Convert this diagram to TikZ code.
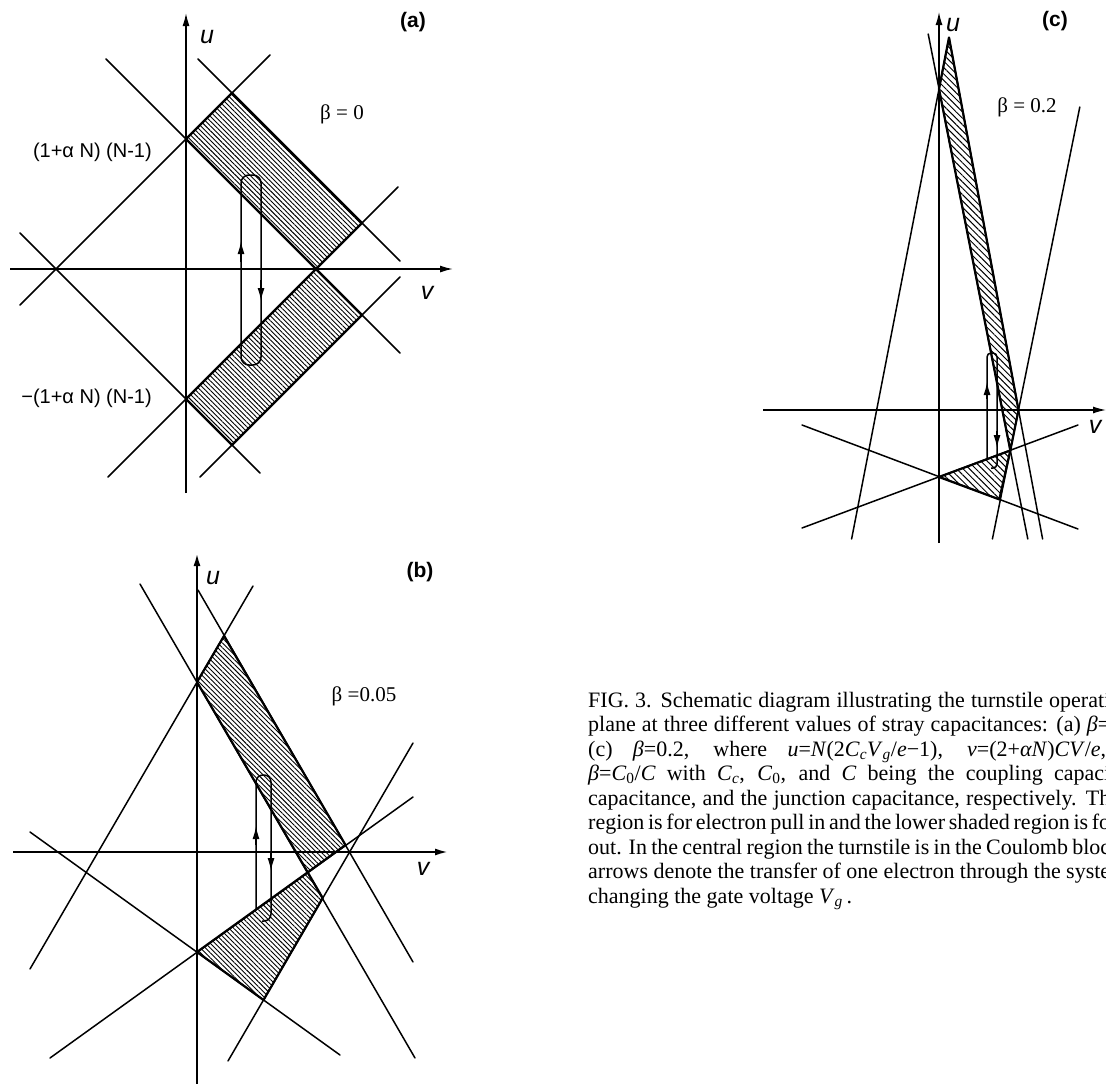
\documentclass[tikz,border=0pt]{standalone}
\usepackage{fontspec}
\setmainfont{Liberation Serif}
\setsansfont{Liberation Sans}
\usetikzlibrary{patterns.meta,arrows.meta}
\newcommand\mv[1]{\textit{#1}}
\newcommand\msb[1]{\textsubscript{\textit{#1}}}
\tikzset{
  ln/.style={line width=1.5pt, line cap=round},
  axisln/.style={line width=1.5pt, -{Latex[length=13pt,width=7pt]}},
  regedge/.style={line width=2.2pt, line join=round},
  hatchA/.style={pattern={Lines[angle=-45,distance=3.4pt,line width=0.9pt]}},
  hatchC/.style={pattern={Lines[angle=-45,distance=4.5pt,line width=1pt]}},
  loopln/.style={line width=1.5pt},
  arrowtip/.style={line width=1.5pt, -{Latex[length=13pt,width=7pt]}},
  axlab/.style={font=\sffamily\itshape\fontsize{25}{25}\selectfont, inner sep=0pt},
  panlab/.style={font=\sffamily\bfseries\fontsize{21}{21}\selectfont, inner sep=0pt},
  betalab/.style={font=\fontsize{21}{21}\selectfont, inner sep=0pt},
  intlab/.style={font=\sffamily\fontsize{20}{20}\selectfont, inner sep=0pt, anchor=east},
  capline/.style={font=\fontsize{22}{24.5}\selectfont, inner sep=0pt, anchor=base west},
}
\begin{document}
\begin{tikzpicture}[x=1pt,y=-1pt]
\useasboundingbox[fill=white] (0,0) rectangle (1106,1084);

% ---------------- panel (a) ----------------
\draw[ln] (20,305) -- (270,55);
\draw[ln] (20,233) -- (260,473);
\draw[ln] (106,59) -- (400,353);
\draw[ln] (108,477) -- (398,187);
\draw[ln] (198,59) -- (400,261);
\draw[ln] (200,477) -- (400,277);
\draw[regedge,hatchA] (186,139) -- (232,93) -- (362,223) -- (316,269) -- cycle;
\draw[regedge,hatchA] (186,399) -- (232,445) -- (362,315) -- (316,269) -- cycle;
\draw[axisln] (186,493) -- (186,13);
\draw[axisln] (10,269) -- (453,269);
\draw[loopln, rounded corners=8pt] (241,175) rectangle (261,365);
\draw[arrowtip] (241,262) -- (241,241);
\draw[arrowtip] (261,280) -- (261,301);
\node[axlab] (ua) at (207,37) {u};
\node[axlab] (va) at (427,293) {v};
\node[panlab] (pa) at (413,22) {(a)};
\node[betalab] (ba) at (342,114) {β = 0};
\node[intlab] (ia) at (152,152) {(1+α N) (N-1)};
\node[intlab] (ib) at (152,398) {−(1+α N) (N-1)};

% ---------------- panel (b) ----------------
\draw[ln] (140,584) -- (415,1058);
\draw[ln] (198,590) -- (413,962);
\draw[ln] (30,969) -- (253,586);
\draw[ln] (30,832) -- (340,1055);
\draw[ln] (50,1058) -- (413,797);
\draw[ln] (228,1061) -- (413,743);
\draw[regedge,hatchA] (197,682) -- (224,636) -- (345.5,845) -- (307.7,872.3) -- cycle;
\draw[regedge,hatchA] (197,952) -- (307.7,872.3) -- (322.7,898) -- (263.5,1000) -- cycle;
\draw[axisln, line width=2.2pt] (197,1084) -- (197,553);
\draw[axisln, line width=2pt] (13,852) -- (448,852);
\draw[loopln, rounded corners=7pt] (256,909) -- (256,775) -- (271,775) -- (271,921) -- (262,921);
\draw[arrowtip] (256,845) -- (256,826);
\draw[arrowtip] (271,852) -- (271,871);
\node[axlab] (ub) at (213,578) {u};
\node[axlab] (vb) at (423,869) {v};
\node[panlab] (pb) at (420,572) {(b)};
\node[betalab] (bb) at (364,696) {β =0.05};

% ---------------- panel (c) ----------------
\draw[ln] (928.2,34) -- (1027.8,539);
\draw[ln] (851.6,539) -- (949,37.5);
\draw[ln] (949,37.5) -- (1042.6,539);
\draw[ln] (992.4,539) -- (1079.8,107);
\draw[ln] (802,425) -- (1078,529);
\draw[ln] (802,528) -- (1078,425);
\draw[regedge,hatchC] (949,37.5) -- (939,89) -- (1010.3,450.5) -- (1018.5,410) -- cycle;
\draw[regedge,hatchC] (939,477) -- (1010.3,450.5) -- (999.3,499.4) -- cycle;
\draw[axisln, line width=1.3pt] (939,543) -- (939,12);
\draw[axisln, line width=1.3pt] (763,410) -- (1106,410);
\draw[loopln, rounded corners=4pt] (987,459) -- (987,353) -- (997,353) -- (997,468) -- (991,468);
\draw[arrowtip] (987,399) -- (987,382);
\draw[arrowtip] (997,431) -- (997,448);
\node[axlab] (uc) at (953,25) {u};
\node[axlab] (vc) at (1095,427) {v};
\node[panlab] (pc) at (1055,21) {(c)};
\node[betalab] (bc) at (1027,107) {β = 0.2};

% ---------------- caption ----------------
\node[capline] (cap1) at (588,707) {\makebox[522pt][s]{FIG. 3. Schematic diagram illustrating the turnstile operati}};
\node[capline] (cap2) at (588,731.5) {\makebox[522pt][s]{plane at three different values of stray capacitances: (a) \mv{β}=}};
\node[capline] (cap3) at (588,756) {\makebox[518pt][s]{(c) \mv{β}=0.2, where \mv{u}=\mv{N}(2\mv{C}\msb{c}\mv{V}\msb{g}/\mv{e}−1), \mv{v}=(2+\mv{αN})\mv{CV}/\mv{e},}};
\node[capline] (cap4) at (588,780.5) {\makebox[522pt][s]{\mv{β}=\mv{C}\textsubscript{0}/\mv{C} with \mv{C}\msb{c}, \mv{C}\textsubscript{0}, and \mv{C} being the coupling capaci}};
\node[capline] (cap5) at (588,805) {\makebox[522pt][s]{capacitance, and the junction capacitance, respectively. Th}};
\node[capline] (cap6) at (588,829.5) {\makebox[522pt][s]{region is for electron pull in and the lower shaded region is fo}};
\node[capline] (cap7) at (588,854) {\makebox[522pt][s]{out. In the central region the turnstile is in the Coulomb bloc}};
\node[capline] (cap8) at (588,878.5) {\makebox[522pt][s]{arrows denote the transfer of one electron through the syste}};
\node[capline] (cap9) at (588,903) {changing the gate voltage \mv{V}\msb{g}\,.};
\end{tikzpicture}
\end{document}
